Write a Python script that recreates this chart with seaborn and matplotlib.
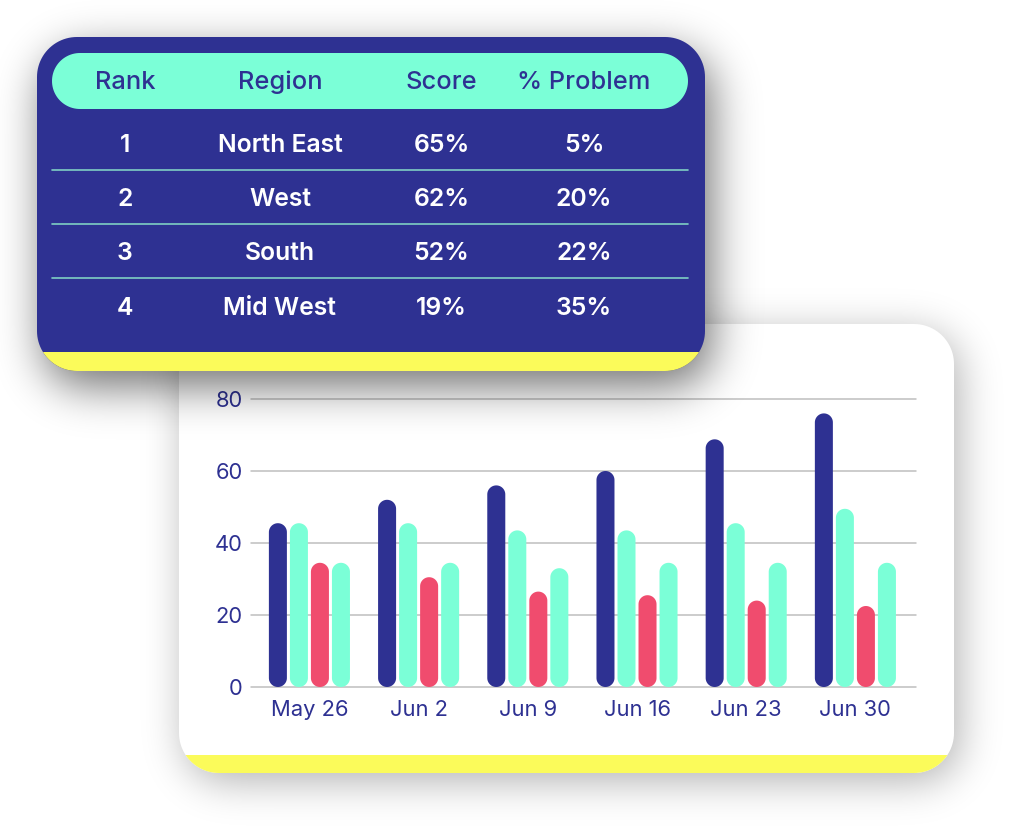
import numpy as np
import pandas as pd
import seaborn as sns
import matplotlib.pyplot as plt
from matplotlib.patches import Polygon, Rectangle
from matplotlib.transforms import IdentityTransform

weeks = ["May 26", "Jun 2", "Jun 9", "Jun 16", "Jun 23", "Jun 30"]
series_1 = [45.5, 52, 56, 60, 68.8, 76]
series_2 = [45.5, 45.5, 43.5, 43.5, 45.5, 49.5]
series_3 = [34.5, 30.5, 26.5, 25.5, 24, 22.5]
series_4 = [34.5, 34.5, 33, 34.5, 34.5, 34.5]

table_head = ["Rank", "Region", "Score", "% Problem"]
ranks = ["1", "2", "3", "4"]
regions = ["North East", "West", "South", "Mid West"]
scores = ["65%", "62%", "52%", "19%"]
problems = ["5%", "20%", "22%", "35%"]

NAVY = "#2E3192"
MINT = "#7BFFD7"
RED = "#F04C6E"
YELLOW = "#FBFB5A"
W, H = 1018, 836

sns.set_theme(style="white")
plt.rcParams["font.family"] = ["Inter", "DejaVu Sans"]


# 高斯模糊，做卡片阴影用
def blur(a, sigma):
    k = np.exp(-0.5 * (np.arange(-3 * sigma, 3 * sigma + 1) / sigma) ** 2)
    k = k / k.sum()
    a = np.apply_along_axis(lambda r: np.convolve(r, k, mode="same"), 0, a)
    a = np.apply_along_axis(lambda r: np.convolve(r, k, mode="same"), 1, a)
    return a


def shadow(ax, x0, y0, x1, y1, r, sigma, alpha):
    yy, xx = np.mgrid[0:H, 0:W]
    dx = np.maximum(np.maximum(x0 + r - xx, xx - (x1 - r)), 0)
    dy = np.maximum(np.maximum(y0 + r - yy, yy - (y1 - r)), 0)
    mask = (np.hypot(dx, dy) <= r).astype(float)
    img = np.zeros((H, W, 4))
    img[..., 3] = blur(mask, sigma) * alpha
    ax.imshow(img, extent=(0, W, H, 0), interpolation="nearest", aspect="auto", zorder=1)
    ax.set_xlim(0, W)
    ax.set_ylim(H, 0)


# 真圆角矩形的顶点（FancyBboxPatch的圆角是贝塞尔，偏方）
def round_rect(x0, y0, x1, y1, r):
    t = np.linspace(0, np.pi / 2, 24)
    pts = []
    for cx, cy, start in [(x1 - r, y1 - r, 0), (x0 + r, y1 - r, np.pi / 2),
                          (x0 + r, y0 + r, np.pi), (x1 - r, y0 + r, 1.5 * np.pi)]:
        pts.append(np.column_stack([cx + r * np.cos(start + t), cy + r * np.sin(start + t)]))
    return np.vstack(pts)


def card(ax, x0, y0, x1, y1, r, color, strip_top):
    box = Polygon(round_rect(x0, y0, x1, y1, r), fc=color, ec="none", zorder=2)
    ax.add_patch(box)
    strip = Rectangle((x0, strip_top), x1 - x0, y1 - strip_top, fc=YELLOW, ec="none", zorder=3)
    ax.add_patch(strip)
    strip.set_clip_path(box)


def layer(zorder):
    ax = fig.add_axes([0, 0, 1, 1], zorder=zorder)
    ax.set_xlim(0, W)
    ax.set_ylim(H, 0)
    ax.axis("off")
    return ax


fig = plt.figure(figsize=(W / 100, H / 100), dpi=100, facecolor="white")

# 底层：白色卡片
back = layer(0)
shadow(back, 179 + 5, 324 + 8, 954 + 5, 773 + 8, 40, 20, 0.3)
card(back, 179, 324, 954, 773, 40, "white", 755)

# 柱状图
ax = fig.add_axes([251 / W, 1 - 687 / H, 665 / W, 288 / H], zorder=1)
ax.patch.set_alpha(0)
df = pd.DataFrame({
    "week": weeks * 4,
    "series": ["a"] * 6 + ["b"] * 6 + ["c"] * 6 + ["d"] * 6,
    "value": series_1 + series_2 + series_3 + series_4,
})
sns.barplot(data=df, x="week", y="value", hue="series", ax=ax, legend=False,
            palette=[NAVY, MINT, RED, MINT], width=0.77, gap=0.143, saturation=1)
ax.set_xlim(-0.535, 5.555)
ax.set_ylim(0, 80)
ax.set_yticks([0, 20, 40, 60, 80])
ax.set_xlabel("")
ax.set_ylabel("")
ax.grid(axis="y", color="#BFBFBF", lw=1.1)
ax.set_axisbelow(True)
for line in ax.get_ygridlines():
    line.set_clip_on(False)
sns.despine(ax=ax, left=True, bottom=True, top=True, right=True)
ax.tick_params(axis="y", length=0, pad=6, labelsize=15.8, labelcolor=NAVY)
ax.tick_params(axis="x", length=0, pad=9, labelsize=15.8, labelcolor=NAVY)

# 把seaborn的矩形换成圆头柱子（按像素算圆角）
for p in list(ax.patches):
    (x0, y0), (x1, y1) = ax.transData.transform(
        [(p.get_x(), p.get_y()), (p.get_x() + p.get_width(), p.get_y() + p.get_height())])
    ax.add_patch(Polygon(round_rect(x0, y0, x1, y1, (x1 - x0) / 2), fc=p.get_facecolor(), ec="none",
                         transform=IdentityTransform(), clip_on=False, zorder=3))
    p.remove()

# 上层：深蓝表格卡片
top = layer(2)
shadow(top, 37 + 6, 37 + 15, 705 + 6, 371 + 15, 40, 22, 0.55)
card(top, 37, 37, 705, 371, 40, NAVY, 352)
top.add_patch(Polygon(round_rect(52, 53, 688, 109, 28), fc=MINT, ec="none", zorder=4))

col_x = [125, 280, 441.5, 584]
for x, name in zip(col_x, table_head):
    top.text(x, 82.5, name, color=NAVY, fontsize=18.3, fontweight="medium",
             ha="center", va="center", zorder=5)
for i, row in enumerate(zip(ranks, regions, scores, problems)):
    y = 145.5 + i * 54.2
    for x, val in zip(col_x, row):
        top.text(x, y, val, color="white", fontsize=17.8, fontweight="semibold",
                 ha="center", va="center", zorder=5)
    if i < 3:
        top.plot([52, 688], [y + 24, y + 24], color="#7FCFC4", lw=1.2, zorder=4)

fig.savefig("out.png", dpi=100)
